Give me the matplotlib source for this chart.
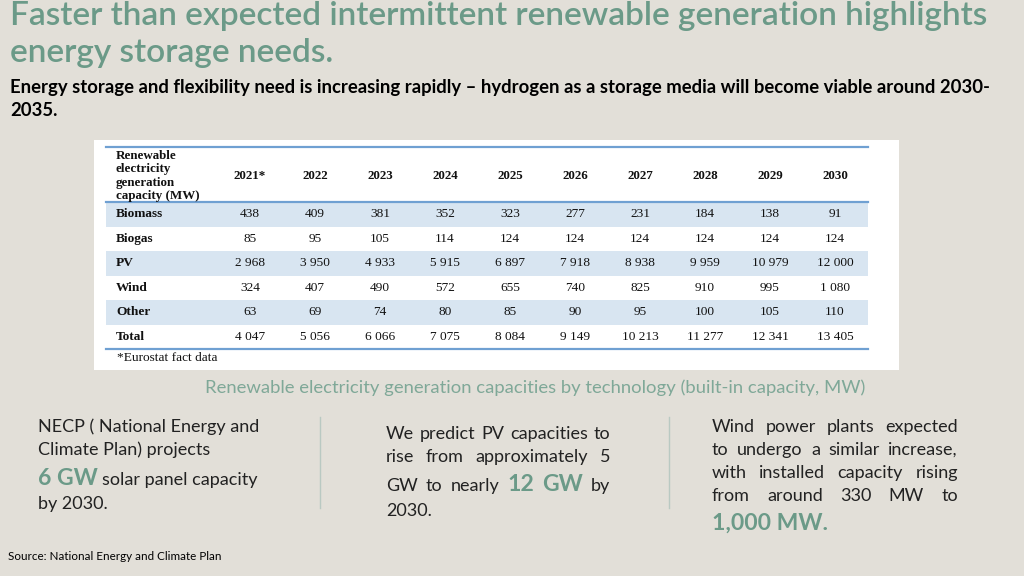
import matplotlib
matplotlib.use('Agg')
import matplotlib.pyplot as plt
from matplotlib.patches import Rectangle

# ---------------- data ----------------
years = ['2021*', '2022', '2023', '2024', '2025', '2026', '2027', '2028', '2029', '2030']
categories = ['Biomass', 'Biogas', 'PV', 'Wind', 'Other', 'Total']
biomass = [438, 409, 381, 352, 323, 277, 231, 184, 138, 91]
biogas = [85, 95, 105, 114, 124, 124, 124, 124, 124, 124]
pv = [2968, 3950, 4933, 5915, 6897, 7918, 8938, 9959, 10979, 12000]
wind = [324, 407, 490, 572, 655, 740, 825, 910, 995, 1080]
other = [63, 69, 74, 80, 85, 90, 95, 100, 105, 110]
total = [4047, 5056, 6066, 7075, 8084, 9149, 10213, 11277, 12341, 13405]
rows = [biomass, biogas, pv, wind, other, total]

title_lines = ['Faster than expected intermittent renewable generation highlights',
               'energy storage needs.']
subtitle_lines = ['Energy storage and flexibility need is increasing rapidly \u2013 hydrogen as a storage media will become viable around 2030-',
                  '2035.']
header_lines = ['Renewable', 'electricity', 'generation', 'capacity (MW)']
caption = 'Renewable electricity generation capacities by technology (built-in capacity, MW)'
source = 'Source: National Energy and Climate Plan'

BG = '#E2DFD8'
TEAL = '#6B9A88'
TEAL_LIGHT = '#7FA898'
BAND = '#D8E5F1'
BLUE = '#6FA0D2'
SANS = ['Lato', 'DejaVu Sans']
SERIF = ['Liberation Serif', 'DejaVu Serif']

fig = plt.figure(figsize=(10.24, 5.76), dpi=100)
fig.patch.set_facecolor(BG)
ax = fig.add_axes([0, 0, 1, 1])
ax.set_xlim(0, 1024)
ax.set_ylim(576, 0)
ax.axis('off')
ax.set_facecolor(BG)
R = fig.canvas.get_renderer()


def width(t):
    return t.get_window_extent(R).width


def fit(x, y, s, target, size, **kw):
    t = ax.text(x, y, s, fontsize=size, **kw)
    w = width(t)
    ns = size * target / w
    t.set_fontsize(ns)
    return t, ns


HL = 16.6


def make(y, w, k, size, color):
    if k == 'h':
        return ax.text(0, y, w, fontsize=HL, color=TEAL, family=SANS,
                       fontweight='bold', va='baseline')
    return ax.text(0, y, w, fontsize=size, color=color, family=SANS, va='baseline')


def justify(x0, x1, y, parts, size, color='#222222'):
    texts = [make(y, w, k, size, color) for w, k in parts]
    ws = [width(t) for t in texts]
    gap = (x1 - x0 - sum(ws)) / max(len(texts) - 1, 1)
    x = x0
    for t, w in zip(texts, ws):
        t.set_x(x)
        x += w + gap


def line(x, y, parts, size, color='#222222'):
    x0 = x
    for w, k in parts:
        t = make(y, w, k, size, color)
        t.set_x(x0)
        x0 += width(t) + size * 0.33


# ---------------- title ----------------
_, ts = fit(10, 16, title_lines[0], 980, 24, color=TEAL, family=SANS,
            fontweight='semibold', va='center')
ax.text(10, 53, title_lines[1], fontsize=ts, color=TEAL, family=SANS,
        fontweight='semibold', va='center')
_, ss = fit(10, 87, subtitle_lines[0], 972, 12, color='black', family=SANS,
            fontweight='bold', va='center')
ax.text(10, 111, subtitle_lines[1], fontsize=ss, color='black', family=SANS,
        fontweight='bold', va='center')

# ---------------- table ----------------
ax.add_patch(Rectangle((94, 140), 805, 230, facecolor='white', edgecolor='none'))
tx0, tx1 = 106, 868
col_x = [250 + 65 * i for i in range(len(years))]
row_top = 202
row_h = 24.5
for i in range(len(categories)):
    if i % 2 == 0 and i < 5:
        ax.add_patch(Rectangle((tx0, row_top + i * row_h), tx1 - tx0, row_h,
                               facecolor=BAND, edgecolor='none'))
for yy in (147, 202, 349):
    ax.plot([tx0, tx1], [yy, yy], color=BLUE, lw=1.6)

for j, h in enumerate(header_lines):
    ax.text(116, 156 + 13.3 * j, h, fontsize=9.4, family=SERIF, fontweight='bold',
            va='center', color='#111111')
for x, yr in zip(col_x, years):
    ax.text(x, 176, yr, fontsize=9.4, family=SERIF, fontweight='bold',
            ha='center', va='center', color='#111111')


def fmt(v):
    return f'{v:,}'.replace(',', ' ')


for i, (cat, vals) in enumerate(zip(categories, rows)):
    yc = row_top + (i + 0.5) * row_h
    ax.text(116, yc, cat, fontsize=9.6, family=SERIF, fontweight='bold',
            va='center', color='#111111')
    for x, v in zip(col_x, vals):
        ax.text(x, yc, fmt(v), fontsize=9.6, family=SERIF, ha='center',
                va='center', color='#111111')
ax.text(117, 358, '*Eurostat fact data', fontsize=9.6, family=SERIF,
        va='center', color='#111111')

# ---------------- caption ----------------
fit(205, 388, caption, 657, 13, color=TEAL_LIGHT, family=SANS, va='center')

# ---------------- bottom columns ----------------
BS = 13.0
for x in (320, 669):
    ax.plot([x, x], [417, 508], color='#B9C9C2', lw=1)

line(38, 432, [('NECP ( National Energy and', 'n')], BS)
line(38, 455, [('Climate Plan) projects', 'n')], BS)
line(38, 485, [('6 GW', 'h'), ('solar panel capacity', 'n')], BS)
line(38, 509, [('by 2030.', 'n')], BS)

justify(386, 610, 439, [(w, 'n') for w in 'We predict PV capacities to'.split()], BS)
justify(386, 610, 462, [(w, 'n') for w in 'rise from approximately 5'.split()], BS)
justify(386, 610, 491, [('GW', 'n'), ('to', 'n'), ('nearly', 'n'), ('12', 'h'), ('GW', 'h'), ('by', 'n')], BS)
line(386, 516, [('2030.', 'n')], BS)

justify(712, 958, 432, [(w, 'n') for w in 'Wind power plants expected'.split()], BS)
justify(712, 958, 455, [(w, 'n') for w in 'to undergo a similar increase,'.split()], BS)
justify(712, 958, 478, [(w, 'n') for w in 'with installed capacity rising'.split()], BS)
justify(712, 958, 501, [(w, 'n') for w in 'from around 330 MW to'.split()], BS)
line(712, 530, [('1,000 MW.', 'h')], BS)

ax.text(8, 557, source, fontsize=8.4, family=SANS, color='black', va='center')

fig.savefig('out.png', dpi=100, facecolor=BG)
